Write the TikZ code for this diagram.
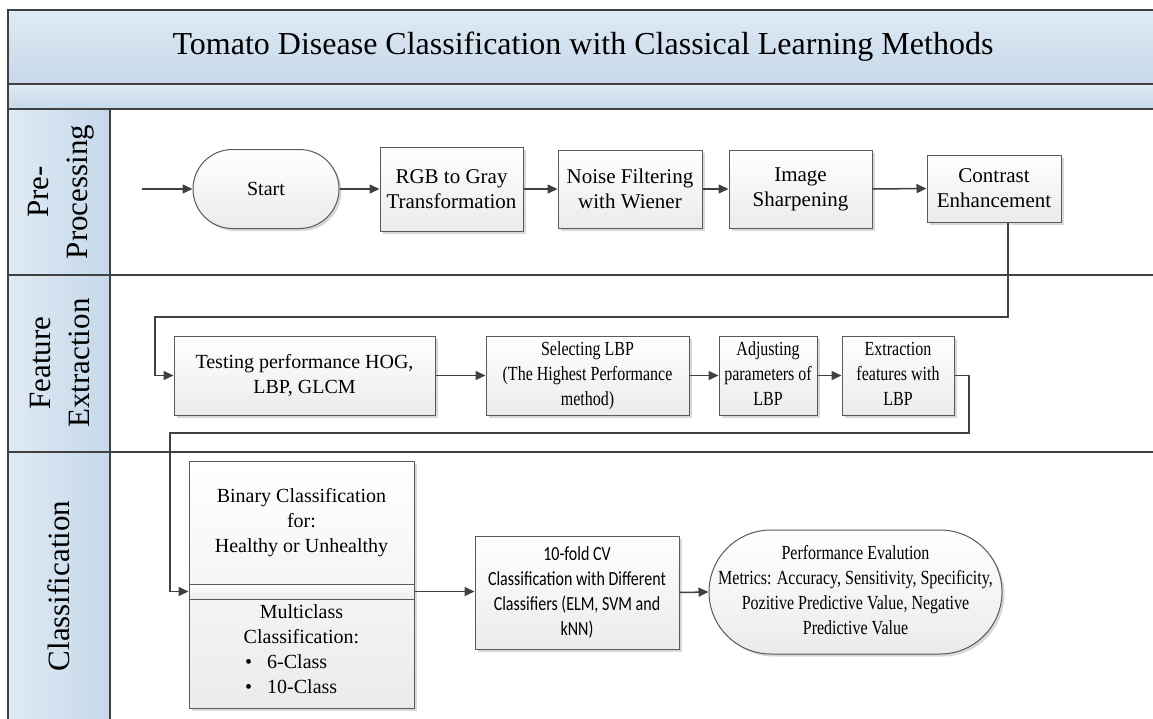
\documentclass[tikz,border=0pt]{standalone}
\usepackage{fontspec}
\setmainfont{Liberation Serif}
\newfontfamily\calib{Carlito}
\usetikzlibrary{arrows.meta,shadows}
\definecolor{lanel}{HTML}{DFEAF4}
\definecolor{laner}{HTML}{C6D8EA}
\definecolor{edgec}{HTML}{5A5A5A}
\definecolor{linec}{HTML}{404040}
\definecolor{boxbot}{HTML}{EBEBEB}
\newcommand{\cond}[1]{\scalebox{0.8}[1]{\begin{tabular}{@{}c@{}}#1\end{tabular}}}
\begin{document}
\begin{tikzpicture}[x=1pt,y=-1pt,
  box/.style={draw=edgec, line width=1pt, top color=white, bottom color=boxbot,
    drop shadow={shadow xshift=2.5pt, shadow yshift=-2.5pt, opacity=0.3, fill=gray},
    align=center, font=\fontsize{20}{25}\selectfont, inner sep=0pt},
  box1/.style={box, font=\fontsize{21}{25}\selectfont},
  plainbox/.style={draw=edgec, line width=1pt, top color=white, bottom color=boxbot, inner sep=0pt},
  txt/.style={align=center, font=\fontsize{20}{25}\selectfont, inner sep=0pt},
  lanelab/.style={rotate=90, align=center, font=\fontsize{31}{39}\selectfont, inner sep=0pt},
  lanehead/.style={draw=linec, line width=1.2pt, left color=lanel, right color=laner},
  band/.style={draw=linec, line width=1.5pt, top color=lanel, bottom color=laner},
  arr/.style={draw=linec, line width=1.5pt, -{Triangle[length=10pt,width=9pt]}},
  lane/.style={draw=linec, line width=1.8pt}]
\clip (0,0) rectangle (1153,718);
\fill[white] (0,0) rectangle (1153,718);
% bands
\path[band] (8,10) rectangle (1170,84);
\path[band] (8,84) rectangle (1170,109);
\node[font=\fontsize{32}{38}\selectfont, inner sep=0pt] (title) at (583,47) {Tomato Disease Classification with Classical Learning Methods};
% lane headers
\path[lanehead] (8,109) rectangle (110,275);
\path[lanehead] (8,275) rectangle (110,452);
\path[lanehead] (8,452) rectangle (110,740);
\draw[lane] (110,275) -- (1170,275);
\draw[lane] (110,452) -- (1170,452);
\draw[lane] (8,109) -- (8,740);
\node[lanelab] (l1) at (61,192) {Pre-\\Processing};
\node[lanelab] (l2) at (60,363) {Feature\\Extraction};
\node[lanelab] (l3) at (59,586) {Classification};
% lane 1
\coordinate (in) at (142,189);
\node[box, rounded corners=39.5pt, minimum width=146pt, minimum height=79pt] (start) at (266,189) {Start};
\node[box1, minimum width=143pt, minimum height=84pt] (rgb) at (451.5,189) {RGB to Gray\\Transformation};
\node[box1, minimum width=144pt, minimum height=78pt] (noise) at (630,189) {Noise Filtering\\with Wiener};
\node[box1, minimum width=143pt, minimum height=78pt] (sharp) at (800.5,189) {\strut Image\\\strut Sharpening};
\node[box1, minimum width=134pt, minimum height=67pt] (contrast) at (994,188.5) {Contrast\\Enhancement};
% lane 2
\node[box, minimum width=261pt, minimum height=79pt] (test) at (304.5,375.5) {Testing performance HOG,\\LBP, GLCM};
\node[box, minimum width=203pt, minimum height=79pt] (select) at (587.5,375.5) {\cond{Selecting LBP\\(The Highest Performance\\method)}};
\node[box, minimum width=98pt, minimum height=79pt] (adjust) at (768,375.5) {\cond{Adjusting\\parameters of\\LBP}};
\node[box, minimum width=112pt, minimum height=79pt] (extract) at (898,375.5) {\cond{Extraction\\features with\\LBP}};
% lane 3
\node[box, minimum width=225pt, minimum height=247pt] (bin) at (301.5,584.5) {};
\node[plainbox, minimum width=225pt, minimum height=15pt] (strip) at (301.5,591.5) {};
\node[txt] (bintxt) at (301.5,522.5) {Binary Classification\\for:\\Healthy or Unhealthy};
\node[txt] (multi) at (301.5,624.5) {Multiclass\\Classification:};
\node[txt, anchor=west] (c6) at (245,662) {\textbullet\hspace{15pt}6-Class};
\node[txt, anchor=west] (c10) at (245,687) {\textbullet\hspace{15pt}10-Class};
\node[box, font=\calib\fontsize{20}{25}\selectfont, minimum width=204pt, minimum height=113pt] (cv) at (577,592.5) {\cond{10-fold CV\\Classification with Different\\Classifiers (ELM, SVM and\\kNN)}};
\node[box, rounded corners=62pt, minimum width=293pt, minimum height=124pt] (perf) at (855.5,592) {\cond{Performance Evalution\\Metrics: Accuracy, Sensitivity, Specificity,\\Pozitive Predictive Value, Negative\\Predictive Value}};
% connectors
\draw[arr] (in) -- (start.west);
\draw[arr] (start.east) -- (rgb.west);
\draw[arr] (rgb.east) -- (noise.west);
\draw[arr] (noise.east) -- (sharp.west);
\draw[arr] (sharp.east) -- (contrast.west);
\draw[arr] ([xshift=14pt]contrast.south) -- (1008,317) -- (155,317) -- (155,375.5) -- (test.west);
\draw[arr] (test.east) -- (select.west);
\draw[arr] (select.east) -- (adjust.west);
\draw[arr] (adjust.east) -- (extract.west);
\draw[arr] (extract.east) -- (969,375.5) -- (969,433) -- (170,433) -- (170,591.5) -- (strip.west);
\draw[arr] (strip.east) -- (cv.west |- strip.east);
\draw[arr] (cv.east) -- (perf.west);
\end{tikzpicture}
\end{document}
